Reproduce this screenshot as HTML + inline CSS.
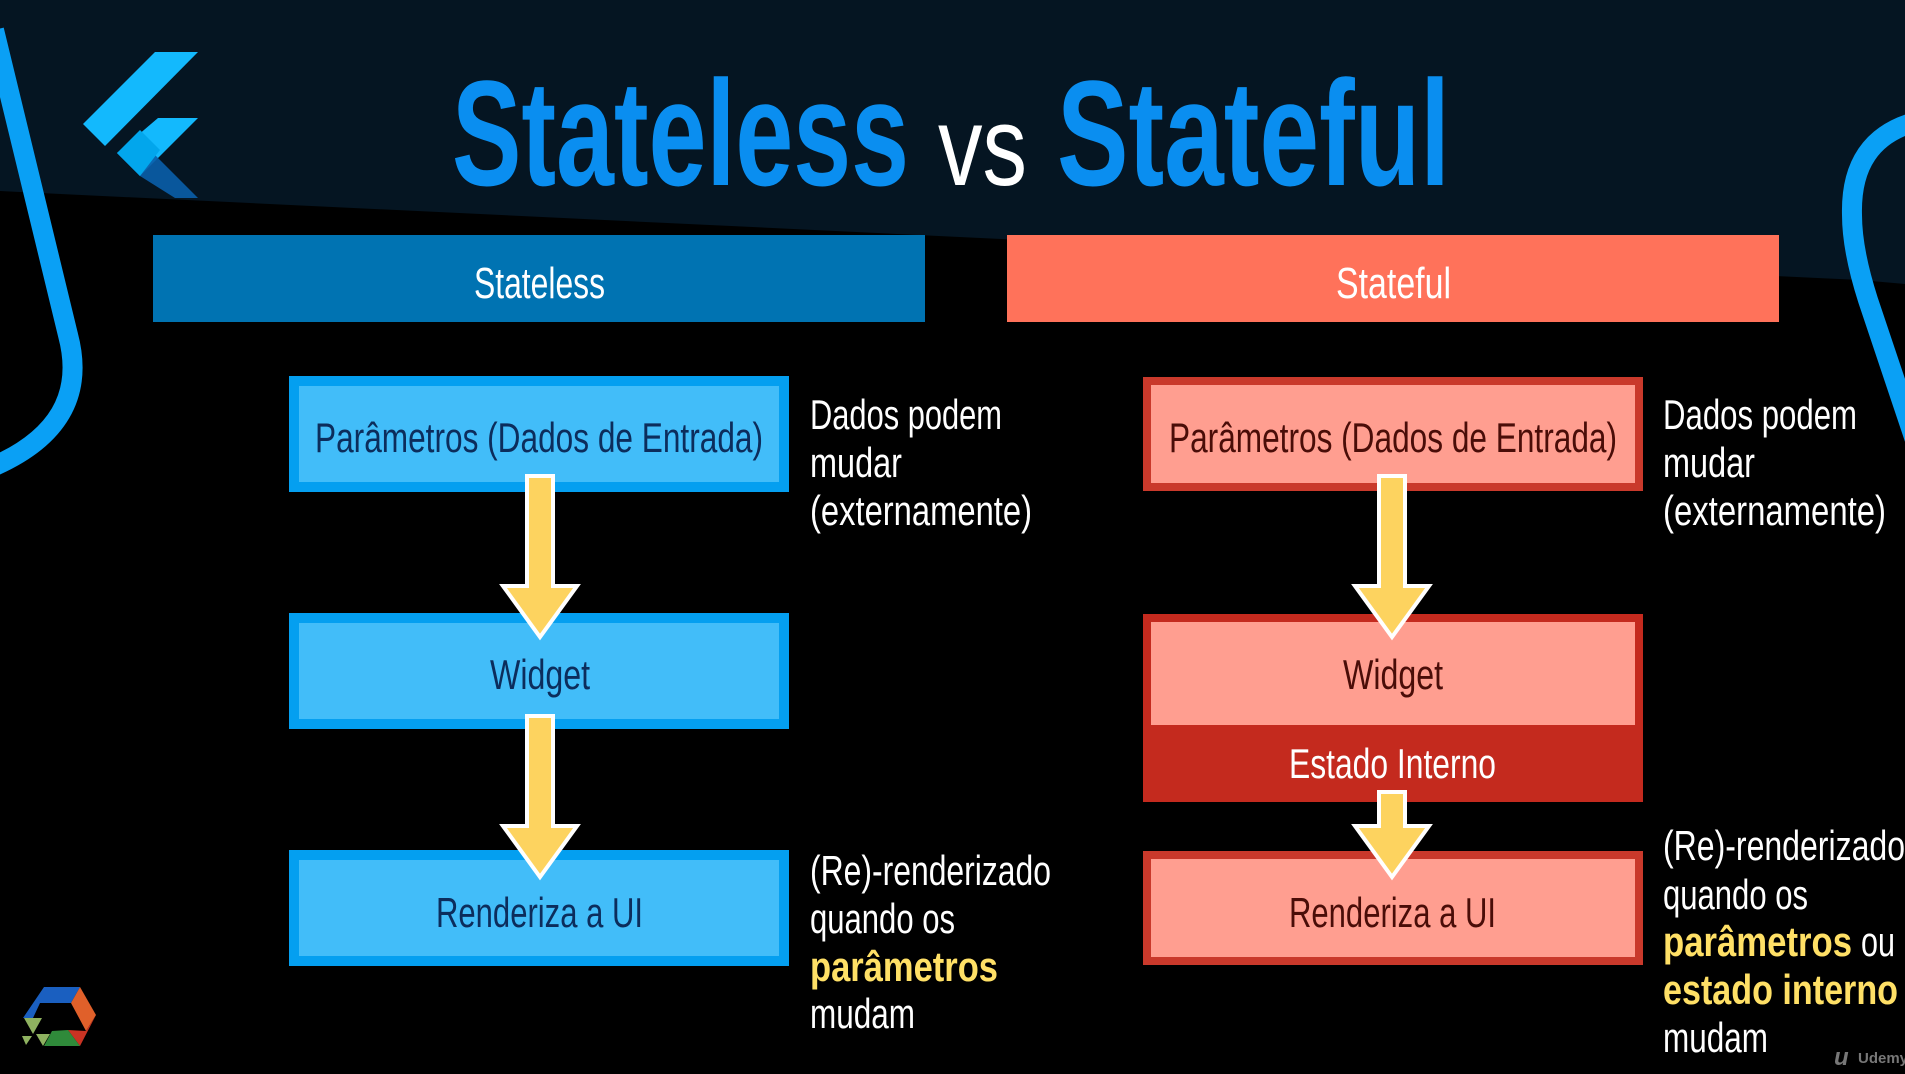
<!DOCTYPE html>
<html><head><meta charset="utf-8"><style>
html,body{margin:0;padding:0;background:#000;}
svg{display:block;}
text{font-family:"Liberation Sans Narrow","Liberation Sans",sans-serif;}
</style></head><body>
<svg width="1905" height="1074" viewBox="0 0 1905 1074" xmlns="http://www.w3.org/2000/svg">
<rect width="1905" height="1074" fill="#000"/>
<polygon points="0,0 1905,0 1905,284 1860,280 40,193 0,191" fill="#051522"/>
<!-- deco curves -->
<path d="M -6 30 L 68 335 Q 92 425 -10 468" fill="none" stroke="#0aa0f5" stroke-width="20"/>
<path d="M 1915 122 Q 1850 140 1852 215 Q 1852 250 1868 300 L 1925 470" fill="none" stroke="#0aa0f5" stroke-width="20"/>
<!-- flutter logo -->
<polygon points="155,52 198,52 105,146 83,124" fill="#13b9fd"/>
<polygon points="158,118 198,118 140,176 117,153" fill="#13b9fd"/>
<polygon points="117,153 140,176 175,198 198,198 160,160 140,140" fill="#0a5eaa" opacity="0.9"/>
<polygon points="117,153 140,130 160,150 140,176" fill="#02a6ec"/>
<!-- title -->
<text x="452" y="185" font-size="150" font-weight="bold" fill="#0a8ef0" textLength="457" lengthAdjust="spacingAndGlyphs">Stateless</text>
<text x="938" y="185" font-size="112" fill="#fff" textLength="89" lengthAdjust="spacingAndGlyphs">vs</text>
<text x="1057" y="185" font-size="150" font-weight="bold" fill="#0a8ef0" textLength="393" lengthAdjust="spacingAndGlyphs">Stateful</text>
<!-- headers -->
<rect x="153" y="235" width="772" height="87" fill="#0073b2"/>
<rect x="1007" y="235" width="772" height="87" fill="#ff725a"/>
<text x="474" y="298" font-size="44" fill="#fff" textLength="131" lengthAdjust="spacingAndGlyphs">Stateless</text>
<text x="1336" y="298" font-size="44" fill="#fff" textLength="115" lengthAdjust="spacingAndGlyphs">Stateful</text>
<!-- left boxes -->
<g fill="#42bdf9" stroke="#049ff0" stroke-width="10">
<rect x="294" y="381" width="490" height="106"/>
<rect x="294" y="618" width="490" height="106"/>
<rect x="294" y="855" width="490" height="106"/>
</g>
<g fill="#0c2d5c" font-size="42">
<text x="315" y="452" textLength="448" lengthAdjust="spacingAndGlyphs">Parâmetros (Dados de Entrada)</text>
<text x="490" y="689" textLength="100" lengthAdjust="spacingAndGlyphs">Widget</text>
<text x="436" y="927" textLength="207" lengthAdjust="spacingAndGlyphs">Renderiza a UI</text>
</g>
<!-- right boxes -->
<rect x="1147" y="381" width="492" height="106" fill="#ff9e90" stroke="#c9392b" stroke-width="8"/>
<rect x="1143" y="614" width="500" height="188" fill="#c42a1e"/>
<rect x="1151" y="622" width="484" height="103" fill="#ff9e90"/>
<rect x="1147" y="855" width="492" height="106" fill="#ff9e90" stroke="#c9392b" stroke-width="8"/>
<g fill="#4a0d08" font-size="42">
<text x="1169" y="452" textLength="448" lengthAdjust="spacingAndGlyphs">Parâmetros (Dados de Entrada)</text>
<text x="1343" y="689" textLength="100" lengthAdjust="spacingAndGlyphs">Widget</text>
<text x="1289" y="927" textLength="207" lengthAdjust="spacingAndGlyphs">Renderiza a UI</text>
</g>
<text x="1289" y="778" font-size="42" fill="#fff" textLength="207" lengthAdjust="spacingAndGlyphs">Estado Interno</text>
<!-- arrows -->
<g fill="#fdd35f" stroke="#fff" stroke-width="4" stroke-linejoin="miter">
<polygon points="527,476 553,476 553,586 577,586 540,637 503,586 527,586"/>
<polygon points="527,716 553,716 553,826 577,826 540,877 503,826 527,826"/>
<polygon points="1379,476 1405,476 1405,586 1429,586 1392,637 1355,586 1379,586"/>
<polygon points="1379,792 1405,792 1405,826 1429,826 1392,877 1355,826 1379,826"/>
</g>
<!-- side texts -->
<g fill="#fff" font-size="42">
<text x="810" y="429" textLength="192" lengthAdjust="spacingAndGlyphs">Dados podem</text>
<text x="810" y="477" textLength="92" lengthAdjust="spacingAndGlyphs">mudar</text>
<text x="810" y="525" textLength="222" lengthAdjust="spacingAndGlyphs">(externamente)</text>
<text x="1663" y="429" textLength="194" lengthAdjust="spacingAndGlyphs">Dados podem</text>
<text x="1663" y="477" textLength="92" lengthAdjust="spacingAndGlyphs">mudar</text>
<text x="1663" y="525" textLength="223" lengthAdjust="spacingAndGlyphs">(externamente)</text>
<text x="810" y="885" textLength="241" lengthAdjust="spacingAndGlyphs">(Re)-renderizado</text>
<text x="810" y="933" textLength="145" lengthAdjust="spacingAndGlyphs">quando os</text>
<text x="810" y="981" fill="#ffe066" font-weight="bold" textLength="188" lengthAdjust="spacingAndGlyphs">parâmetros</text>
<text x="810" y="1028" textLength="105" lengthAdjust="spacingAndGlyphs">mudam</text>
<text x="1663" y="860" textLength="242" lengthAdjust="spacingAndGlyphs">(Re)-renderizado</text>
<text x="1663" y="909" textLength="145" lengthAdjust="spacingAndGlyphs">quando os</text>
<text x="1663" y="956" fill="#ffe066" font-weight="bold" textLength="189" lengthAdjust="spacingAndGlyphs">parâmetros</text>
<text x="1861" y="956" textLength="34" lengthAdjust="spacingAndGlyphs">ou</text>
<text x="1663" y="1004" fill="#ffe066" font-weight="bold" textLength="235" lengthAdjust="spacingAndGlyphs">estado interno</text>
<text x="1663" y="1052" textLength="105" lengthAdjust="spacingAndGlyphs">mudam</text>
</g>
<!-- hex logo -->
<polygon points="44,987 80,987 71,1003 40,1003 33,1018 23,1018" fill="#1a5fc0"/>
<polygon points="80,987 96,1015 86,1031 71,1003" fill="#e0602a"/>
<polygon points="96,1015 80,1046 68,1030 86,1031" fill="#c93323"/>
<polygon points="80,1046 44,1046 52,1031 68,1030" fill="#2f8a3a"/>
<polygon points="24,1018 42,1018 33,1034" fill="#8fb260"/>
<polygon points="36,1034 50,1034 43,1046" fill="#8fb260"/>
<polygon points="22,1036 32,1036 26,1045" fill="#8fb260"/>
<!-- udemy -->
<text x="1834" y="1065" font-size="24" font-weight="bold" fill="#777" font-style="italic">u</text>
<text x="1858" y="1063" font-size="15" font-weight="bold" fill="#777">Udemy</text>
</svg>
</body></html>
